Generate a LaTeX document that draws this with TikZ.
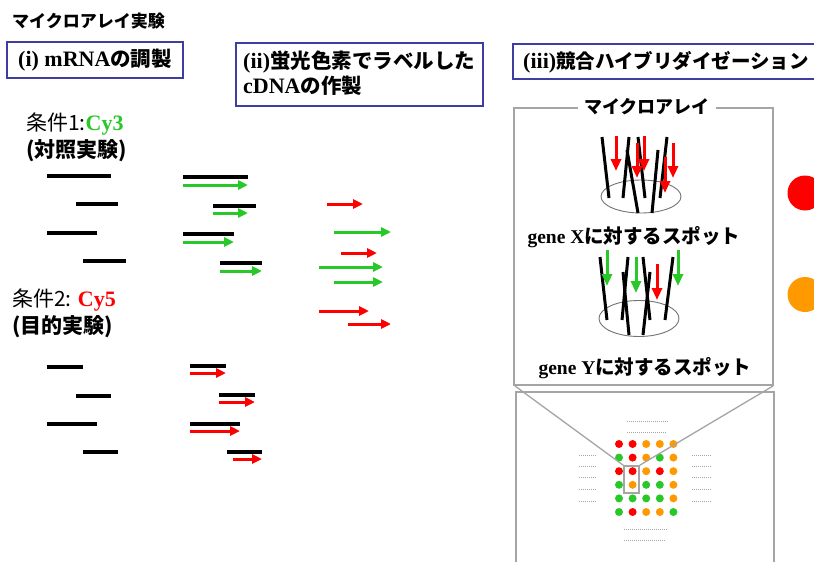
\documentclass[tikz,border=0pt]{standalone}
\usepackage{fontspec}
\setmainfont{Liberation Serif}
\newfontfamily\jp{Noto Sans CJK JP}
\usetikzlibrary{arrows.meta}

\definecolor{boxblue}{RGB}{62,62,160}
\definecolor{dyegreen}{RGB}{40,200,40}
\definecolor{dyered}{RGB}{255,0,0}
\definecolor{dyeorange}{RGB}{255,153,0}
\definecolor{framegray}{RGB}{165,165,165}

\newcommand{\jpb}{\jp\bfseries}
\newcommand{\jph}[1]{{\jp\fontsize{20.5}{25}\selectfont #1}}

\begin{document}
\begin{tikzpicture}[x=1pt,y=-1pt,
  headbox/.style={draw=boxblue, line width=2pt},
  headtext/.style={font=\fontsize{22}{25}\selectfont\bfseries, inner sep=0pt},
  plaintext/.style={font=\fontsize{21}{24}\selectfont, inner sep=0pt},
  strand/.style={line width=3.6pt, black},
  probe/.style={line width=3pt, black},
  dye/.style={line width=3pt, -{Triangle[length=10pt,width=9pt]}},
  vdye/.style={line width=3pt, -{Triangle[length=12pt,width=10pt]}},
  frame/.style={draw=framegray, line width=2pt},
  zoomline/.style={draw=framegray, line width=1.3pt},
  spot/.style={circle, inner sep=0pt, minimum size=8pt},
  dots/.style={draw=black!35, line width=1pt, dash pattern=on 1pt off 1pt}]

\clip (0,0) rectangle (814,562);
\fill[white] (0,0) rectangle (814,562);

% ---------- title ----------
\node[anchor=west, inner sep=0pt, font=\fontsize{17}{20}\selectfont\jpb] (title) at (12,21) {マイクロアレイ実験};

% ---------- header boxes ----------
\draw[headbox] (7,42) rectangle (183,78);
\node[headtext, anchor=west] (hi) at (18,60) {(i) mRNA\jph{の調製}};

\draw[headbox] (236,43) rectangle (483,106);
\node[headtext, anchor=north west, align=left] (hii) at (243,51)
  {(ii)\jph{蛍光色素でラベルした}\\cDNA\jph{の作製}};

\draw[headbox] (513,44) rectangle (830,79);
\node[headtext, anchor=west] (hiii) at (523,62) {(iii){\jp\fontsize{19.5}{25}\selectfont 競合ハイブリダイゼーション}};

% ---------- condition labels ----------
\node[plaintext, anchor=west] (c1) at (26,124) {{\jp 条件1:}{\fontsize{22}{24}\selectfont\bfseries\color{dyegreen}Cy3}};
\node[plaintext, anchor=west] (c1b) at (26,151) {{\jpb (対照実験)}};
\node[plaintext, anchor=west] (c2) at (12,300) {{\jp 条件2: }{\fontsize{22}{24}\selectfont\bfseries\color{dyered}Cy5}};
\node[plaintext, anchor=west] (c2b) at (12,327) {{\jpb (目的実験)}};

% ---------- mRNA, condition 1 ----------
\foreach \xa/\xb/\y in {47/111/176, 76/118/204, 47/97/233, 83/126/261}
  \draw[strand] (\xa,\y) -- (\xb,\y);

% ---------- labelled cDNA, condition 1 ----------
\foreach \xa/\xb/\ya/\xc/\yb in {183/248/177/248/185, 213/256/206/248/213,
                                  183/234/234/234/242, 220/262/263/262/271}{
  \draw[strand] (\xa,\ya) -- (\xb,\ya);
  \draw[dye, color=dyegreen] (\xa,\yb) -- (\xc,\yb);
}

% ---------- mRNA, condition 2 ----------
\foreach \xa/\xb/\y in {47/83/367, 76/111/396, 47/97/424, 83/118/452}
  \draw[strand] (\xa,\y) -- (\xb,\y);

% ---------- labelled cDNA, condition 2 ----------
\foreach \xa/\xb/\ya/\xs/\yb in {190/226/366/190/373, 219/255/395/219/402,
                                  190/240/424/190/431, 227/262/452/233/459}{
  \draw[strand] (\xa,\ya) -- (\xb,\ya);
  \draw[dye, color=dyered] (\xs,\yb) -- (\xb,\yb);
}

% ---------- pooled labelled cDNA ----------
\foreach \xa/\xb/\y/\c in {327/363/204/dyered, 334/391/232/dyegreen,
                           341/377/253/dyered, 319/383/267/dyegreen,
                           334/383/282/dyegreen, 319/369/311/dyered,
                           348/391/324/dyered}
  \draw[dye, color=\c] (\xa,\y) -- (\xb,\y);

% ---------- microarray detail frame ----------
\draw[frame] (514,108) rectangle (773,385);
\node[fill=white, inner xsep=6pt, inner ysep=0pt, font=\fontsize{18}{20}\selectfont\jpb] (arr) at (647,107) {マイクロアレイ};

% spot for gene X
\draw[black!55, line width=0.9pt] (641,196.5) ellipse [x radius=40pt, y radius=16.5pt];
\foreach \xa/\ya/\xb/\yb in {602/137/609/198, 629/137/623/198, 627/150/638/213,
                             638/137/645/198, 658/150/652/213, 667/137/660/198}
  \draw[probe] (\xa,\ya) -- (\xb,\yb);
\foreach \x/\ya/\yb in {616/136/171, 637/143/178, 644/136/171, 673/143/178, 665/157/193}
  \draw[vdye, color=dyered] (\x,\ya) -- (\x,\yb);
\node[headtext, font=\fontsize{19.5}{22}\selectfont\bfseries] (gx) at (634,237) {gene X{\jp に対するスポット}};

% spot for gene Y
\draw[black!55, line width=0.9pt] (639,318.5) ellipse [x radius=40pt, y radius=18pt];
\foreach \xa/\ya/\xb/\yb in {600/257/607/320, 628/257/622/320, 623/272/629/335,
                             643/257/650/320, 650/272/643/335, 673/257/665/320}
  \draw[probe] (\xa,\ya) -- (\xb,\yb);
\foreach \x/\ya/\yb/\c in {607/250/286/dyegreen, 636/257/293/dyegreen,
                           657/264/300/dyered, 678/250/286/dyegreen}
  \draw[vdye, color=\c] (\x,\ya) -- (\x,\yb);
\node[headtext, font=\fontsize{19.5}{22}\selectfont\bfseries] (gy) at (645,368) {gene Y{\jp に対するスポット}};

% ---------- whole-slide view ----------
\draw[frame] (516,392) rectangle (774,580);

% placeholder text rows around the grid
\foreach \xa/\xb/\y in {627/669/421, 627/667/432, 624/667/529, 624/665/540}
  \draw[dots] (\xa,\y) -- (\xb,\y);
\foreach \y in {455,466,477,489,501}{
  \draw[dots] (579,\y) -- (597,\y);
  \draw[dots] (692,\y) -- (711,\y);
}

% spot grid
\foreach \c [count=\i from 0] in {dyered,dyered,dyeorange,dyeorange,dyeorange,
                                   dyegreen,dyered,dyeorange,dyegreen,dyeorange,
                                   dyered,dyered,dyeorange,dyered,dyeorange,
                                   dyegreen,dyeorange,dyegreen,dyegreen,dyeorange,
                                   dyegreen,dyegreen,dyegreen,dyegreen,dyeorange,
                                   dyegreen,dyered,dyeorange,dyeorange,dyegreen}{
  \pgfmathtruncatemacro{\col}{mod(\i,5)}
  \pgfmathtruncatemacro{\row}{div(\i,5)}
  \node[spot, fill=\c] (s\i) at ({619+13.6*\col},{444+13.6*\row}) {};
}

% magnified spot marker and zoom lines
\node[draw=framegray, line width=1.6pt, minimum width=15pt, minimum height=27pt, inner sep=0pt] (sel) at (631.5,479.5) {};
\coordinate (fl) at (515,386);
\coordinate (fr) at (773,386);
\draw[zoomline] (fl) -- (sel.north west);
\draw[zoomline] (fr) -- (sel.north east);

% ---------- signal colours ----------
\node[circle, fill=dyered, minimum size=35pt, inner sep=0pt] (sigr) at (805,193) {};
\node[circle, fill=dyeorange, minimum size=35pt, inner sep=0pt] (sigo) at (805,294.5) {};

\end{tikzpicture}
\end{document}
